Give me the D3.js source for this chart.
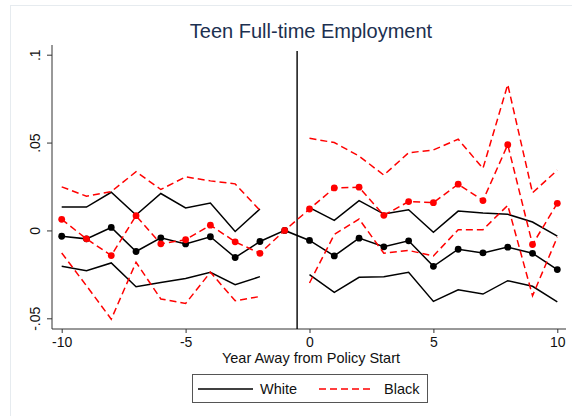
<!DOCTYPE html>
<html>
<head>
<meta charset="utf-8">
<script src="https://cdn.jsdelivr.net/npm/d3@7"></script>
<style>
  html, body { margin: 0; padding: 0; background: #fff; }
  svg { display: block; font-family: "Liberation Sans", Arial, sans-serif; }
</style>
</head>
<body>
<svg id="chart" width="572" height="416"></svg>
<script>
// Event-study estimates: years relative to policy start (year -1 is the reference)
const years = [-10, -9, -8, -7, -6, -5, -4, -3, -2, -1, 0, 1, 2, 3, 4, 5, 6, 7, 8, 9, 10];

const whiteEst = [-0.0033, -0.0048, 0.0017, -0.0120, -0.0042, -0.0077, -0.0036, -0.0154, -0.0063, 0,
                  -0.0057, -0.0145, -0.0044, -0.0093, -0.0059, -0.0204, -0.0107, -0.0128, -0.0095, -0.0130, -0.0223];
const whiteHi  = [0.0133, 0.0133, 0.0217, 0.0088, 0.0210, 0.0128, 0.0156, -0.0006, 0.0122, null,
                  0.0130, 0.0057, 0.0170, 0.0093, 0.0118, -0.0011, 0.0110, 0.0099, 0.0092, 0.0048, -0.0032];
const whiteLo  = [-0.0204, -0.0229, -0.0185, -0.0320, -0.0296, -0.0273, -0.0238, -0.0309, -0.0263, null,
                  -0.0252, -0.0353, -0.0267, -0.0263, -0.0238, -0.0404, -0.0338, -0.0362, -0.0286, -0.0318, -0.0406];

const blackEst = [0.0063, -0.0048, -0.0143, 0.0084, -0.0076, -0.0053, 0.0030, -0.0065, -0.0130, 0,
                  0.0122, 0.0242, 0.0246, 0.0086, 0.0164, 0.0158, 0.0263, 0.0170, 0.0488, -0.0080, 0.0154];
const blackHi  = [0.0248, 0.0195, 0.0221, 0.0334, 0.0233, 0.0305, 0.0282, 0.0265, 0.0114, null,
                  0.0524, 0.0500, 0.0423, 0.0315, 0.0442, 0.0458, 0.0519, 0.0353, 0.0830, 0.0214, 0.0343];
const blackLo  = [-0.0128, -0.0315, -0.0505, -0.0181, -0.0390, -0.0416, -0.0238, -0.0400, -0.0376, null,
                  -0.0299, -0.0023, 0.0065, -0.0130, -0.0114, -0.0145, 0.0004, 0.0004, 0.0143, -0.0372, -0.0038];

const xTicks = [-10, -5, 0, 5, 10];
const xTickLabels = ["-10", "-5", "0", "5", "10"];
const yTicks = [-0.05, 0, 0.05, 0.1];
const yTickLabels = ["-.05", "0", ".05", ".1"];
const policyLine = -0.5;

const titleText = "Teen Full-time Employment";
const xTitle = "Year Away from Policy Start";
const legendLabels = ["White", "Black"];

const svg = d3.select("#chart");

// outer frame of the graph region
svg.append("rect")
  .attr("x", 10.5).attr("y", 5.5).attr("width", 600).attr("height", 500)
  .attr("fill", "#fff").attr("stroke", "#e6ebef").attr("stroke-width", 1);

// plot region bounds
const plot = { left: 52, right: 566, top: 45, bottom: 329 };

const x = d3.scaleLinear().domain([-10, 10]).range([61.7, 557.3]);
const y = d3.scaleLinear().domain([-0.05, 0.1]).range([318.3, 54.7]);

// title
svg.append("text")
  .attr("x", 311).attr("y", 38)
  .attr("text-anchor", "middle")
  .attr("font-size", 20)
  .attr("fill", "#1c3050")
  .text(titleText);

// axes
const yAxis = d3.axisLeft(y).tickValues(yTicks).tickSize(5).tickPadding(0)
  .tickFormat((d, i) => yTickLabels[i]);
const gy = svg.append("g").attr("transform", `translate(${plot.left},0)`).call(yAxis);
gy.select(".domain").remove();
gy.selectAll(".tick line").attr("stroke", "#333");
gy.selectAll(".tick text")
  .attr("font-size", 14).attr("fill", "#111")
  .attr("x", null).attr("dy", null)
  .attr("text-anchor", "middle")
  .attr("transform", "translate(-12.5,0) rotate(-90)");

const xAxis = d3.axisBottom(x).tickValues(xTicks).tickSize(4).tickPadding(4)
  .tickFormat((d, i) => xTickLabels[i]);
const gx = svg.append("g").attr("transform", `translate(0,${plot.bottom})`).call(xAxis);
gx.select(".domain").remove();
gx.selectAll(".tick line").attr("stroke", "#333");
gx.selectAll(".tick text").attr("font-size", 14).attr("fill", "#111");

svg.append("line")
  .attr("x1", plot.left).attr("x2", plot.left)
  .attr("y1", plot.top).attr("y2", plot.bottom)
  .attr("stroke", "#333").attr("stroke-width", 1);
svg.append("line")
  .attr("x1", plot.left).attr("x2", plot.right)
  .attr("y1", plot.bottom).attr("y2", plot.bottom)
  .attr("stroke", "#333").attr("stroke-width", 1);

// x axis title
svg.append("text")
  .attr("x", 311).attr("y", 363)
  .attr("text-anchor", "middle")
  .attr("font-size", 14.5)
  .attr("fill", "#111")
  .text(xTitle);

// vertical line just before policy start
svg.append("line")
  .attr("x1", x(policyLine)).attr("x2", x(policyLine))
  .attr("y1", 51).attr("y2", plot.bottom)
  .attr("stroke", "#000").attr("stroke-width", 1.4);

const line = d3.line()
  .defined(d => d[1] !== null)
  .x(d => x(d[0]))
  .y(d => y(d[1]));

const series = [
  { est: whiteEst, hi: whiteHi, lo: whiteLo, color: "#000", dash: null },
  { est: blackEst, hi: blackHi, lo: blackLo, color: "#ff0000", dash: "7,4" }
];

const g = svg.append("g");
series.forEach(s => {
  [s.hi, s.lo, s.est].forEach(vals => {
    g.append("path")
      .datum(years.map((t, i) => [t, vals[i]]))
      .attr("d", line)
      .attr("fill", "none")
      .attr("stroke", s.color)
      .attr("stroke-width", 1.5)
      .attr("stroke-dasharray", s.dash);
  });
  g.selectAll(null)
    .data(years.map((t, i) => [t, s.est[i]]))
    .enter().append("circle")
    .attr("cx", d => x(d[0]))
    .attr("cy", d => y(d[1]))
    .attr("r", 3.4)
    .attr("fill", s.color);
});

// legend
const lg = svg.append("g");
lg.append("rect")
  .attr("x", 192.5).attr("y", 374.5).attr("width", 235).attr("height", 28)
  .attr("fill", "#fff").attr("stroke", "#555").attr("stroke-width", 1);
const legendItems = [
  { label: legendLabels[0], color: "#000", dash: null, x1: 198, x2: 253, tx: 260 },
  { label: legendLabels[1], color: "#ff0000", dash: "7,4", x1: 319, x2: 374, tx: 384 }
];
legendItems.forEach(it => {
  lg.append("line")
    .attr("x1", it.x1).attr("x2", it.x2).attr("y1", 389).attr("y2", 389)
    .attr("stroke", it.color).attr("stroke-width", 1.5)
    .attr("stroke-dasharray", it.dash);
  lg.append("text")
    .attr("x", it.tx).attr("y", 394)
    .attr("font-size", 14.5).attr("fill", "#111")
    .text(it.label);
});
</script>
</body>
</html>
